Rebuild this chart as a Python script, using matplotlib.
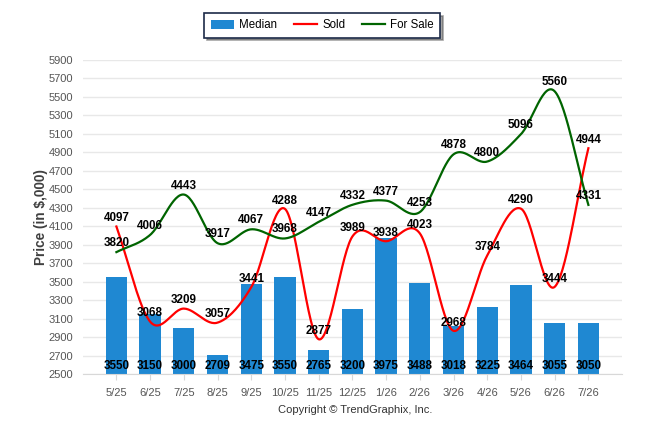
import matplotlib
matplotlib.use("Agg")
import matplotlib.pyplot as plt
import numpy as np

months = ["5/25", "6/25", "7/25", "8/25", "9/25", "10/25", "11/25", "12/25",
          "1/26", "2/26", "3/26", "4/26", "5/26", "6/26", "7/26"]
median = [3550, 3150, 3000, 2709, 3475, 3550, 2765, 3200, 3975, 3488,
          3018, 3225, 3464, 3055, 3050]
sold = [4097, 3068, 3209, 3057, 3441, 4288, 2877, 3989, 3938, 4023,
        2968, 3784, 4290, 3444, 4944]
for_sale = [3820, 4006, 4443, 3917, 4067, 3968, 4147, 4332, 4377, 4253,
            4878, 4800, 5096, 5560, 4331]
yticks = list(range(2500, 6000, 200))

plt.rcParams['font.family'] = ['Liberation Sans', 'DejaVu Sans']


def smooth(x, y, n=30):
    # catmull-rom curve through the points
    x = np.asarray(x, float)
    y = np.asarray(y, float)
    px = np.concatenate([[2 * x[0] - x[1]], x, [2 * x[-1] - x[-2]]])
    py = np.concatenate([[2 * y[0] - y[1]], y, [2 * y[-1] - y[-2]]])
    xs, ys = [], []
    t = np.linspace(0, 1, n, endpoint=False)
    for i in range(1, len(px) - 2):
        for p, out in ((px, xs), (py, ys)):
            p0, p1, p2, p3 = p[i - 1], p[i], p[i + 1], p[i + 2]
            out.append(0.5 * ((2 * p1) + (-p0 + p2) * t
                              + (2 * p0 - 5 * p1 + 4 * p2 - p3) * t ** 2
                              + (-p0 + 3 * p1 - 3 * p2 + p3) * t ** 3))
    xs.append([x[-1]])
    ys.append([y[-1]])
    return np.concatenate(xs), np.concatenate(ys)


fig = plt.figure(figsize=(6.46, 4.34), dpi=100)
ax = fig.add_axes([0.128, 0.138, 0.835, 0.724])

x = np.arange(len(months))
base = yticks[0]
bars = ax.bar(x, np.array(median) - base, bottom=base, width=0.63,
              color="#1f88d2", zorder=2, label="Median")

sx, sy = smooth(x, sold)
l1, = ax.plot(sx, sy, color="#ff0000", lw=1.6, zorder=3, label="Sold")
fx, fy = smooth(x, for_sale)
l2, = ax.plot(fx, fy, color="#006400", lw=1.6, zorder=3, label="For Sale")

lab = dict(ha="center", va="center", fontsize=8.4, fontweight="bold",
           color="black", zorder=5, textcoords="offset points")
for i in range(len(months)):
    ax.annotate(str(median[i]), (x[i], base), xytext=(0, 6), **lab)
    ax.annotate(str(sold[i]), (x[i], sold[i]), xytext=(0, 6), **lab)
    ax.annotate(str(for_sale[i]), (x[i], for_sale[i]), xytext=(0, 6.5), **lab)

ax.set_xlim(-1, len(months))
ax.set_ylim(2500, 5900)
ax.set_yticks(yticks)
ax.set_xticks(x)
ax.set_xticklabels(months)
ax.tick_params(axis="y", length=0, labelsize=8, colors="#555555", pad=7)
ax.tick_params(axis="x", length=4, color="#d8d8d8", labelsize=8,
               labelcolor="#555555", pad=6)
ax.yaxis.grid(True, color="#e8e8e8", lw=1)
ax.set_axisbelow(True)
for s in ["top", "right", "left"]:
    ax.spines[s].set_visible(False)
ax.spines["bottom"].set_color("#d8d8d8")

ax.set_ylabel("Price (in $,000)", fontsize=9.8, fontweight="bold",
              color="#404040", labelpad=0)

leg = fig.legend([bars, l1, l2], ["Median", "Sold", "For Sale"],
                 loc="center", bbox_to_anchor=(0.499, 0.942), ncol=3,
                 fontsize=8.3, frameon=True, fancybox=False, shadow=True,
                 handlelength=2.0, handleheight=0.8, columnspacing=1.4,
                 borderpad=0.55, handletextpad=0.5)
leg.get_frame().set_edgecolor("#1c2a48")
leg.get_frame().set_linewidth(1.2)

fig.text(0.55, 0.055, "Copyright \u00a9 TrendGraphix, Inc.", ha="center",
         va="center", fontsize=8, color="#333333")

fig.savefig("out.png", dpi=100)
